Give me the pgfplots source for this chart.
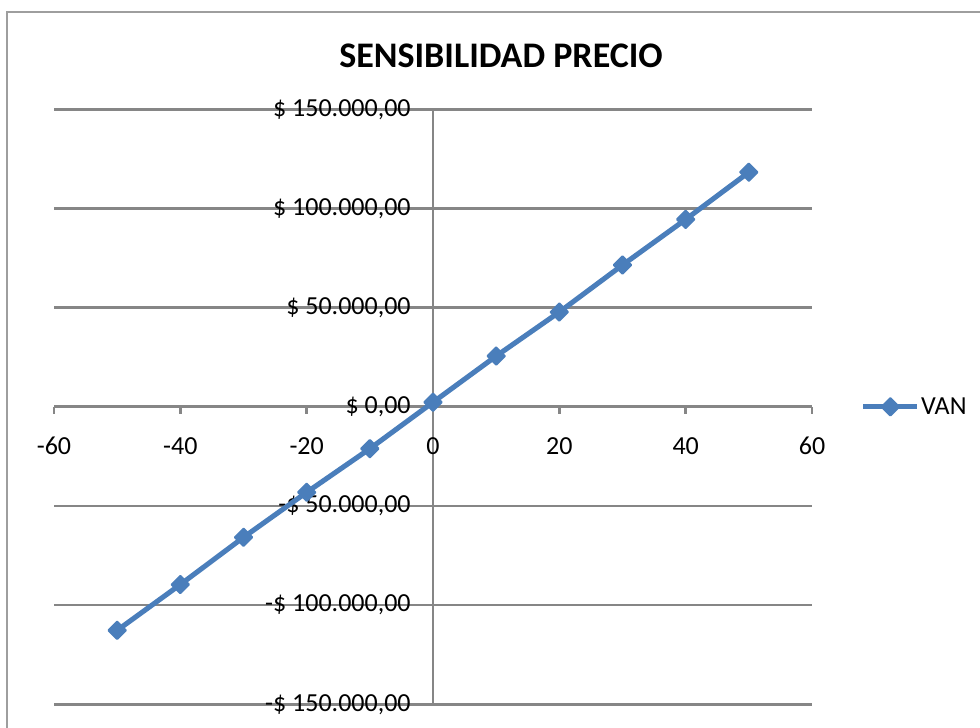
\documentclass[border=0pt]{standalone}
\usepackage{pgfplots}
\pgfplotsset{compat=1.18}
\usepackage{fontspec}
\setmainfont{Carlito}
\definecolor{gridgray}{RGB}{134,134,134}
\definecolor{serie}{RGB}{74,126,187}
\begin{document}
\begin{tikzpicture}
\useasboundingbox (0,0) rectangle (735pt,545.25pt);
\draw[gridgray!80, line width=1.5pt] (5.25pt,-20pt) rectangle (760pt,535.9pt);
\node[font=\bfseries\fontsize{27}{30}\selectfont, inner sep=0pt] at (375.75pt,503.6pt) {SENSIBILIDAD PRECIO};
\begin{axis}[
  at={(40.5pt,17pt)}, anchor=south west, scale only axis,
  width=568.5pt, height=446.25pt,
  xmin=-60, xmax=60, ymin=-150000, ymax=150000,
  enlargelimits=false,
  axis lines=middle,
  axis line style={draw=gridgray, line width=2pt, -},
  ymajorgrids,
  grid style={gridgray, line width=2pt},
  xtick={-60,-40,-20,0,20,40,60},
  xticklabels={-60,-40,-20,0,20,40,60},
  ytick={-150000,-100000,-50000,0,50000,100000,150000},
  yticklabels={{-\$ 150.000,00},{-\$ 100.000,00},{-\$ 50.000,00},{\$ 0,00},{\$ 50.000,00},{\$ 100.000,00},{\$ 150.000,00}},
  scaled ticks=false,
  hide obscured x ticks=false, hide obscured y ticks=false,
  tick align=outside, major tick length=5.25pt,
  tick style={gridgray, line width=2pt},
  ticklabel style={font=\fontsize{19.5}{22}\selectfont},
  xticklabel style={yshift=-14pt},
  yticklabel style={xshift=-8pt},
  legend style={draw=none, fill=none, at={(axis description cs:1.064,0.5)}, anchor=west,
    inner sep=0pt, font=\fontsize{19.5}{22}\selectfont, nodes={inner sep=1pt}},
  legend image code/.code={\draw[#1,mark repeat=2,mark phase=2] plot coordinates {(0pt,0pt) (20.25pt,0pt) (40.5pt,0pt)};},
  clip=false,
]
\addplot[serie, line width=3.8pt, mark=square*, mark size=4.6pt,
  mark options={solid, fill=serie, draw=serie, line width=1.5pt, rotate=45, line join=round}]
  coordinates {
  (-50,-112700) (-40,-89600) (-30,-65800) (-20,-43100) (-10,-21100)
  (0,2300) (10,25600) (20,47800) (30,71500) (40,94500) (50,118300)
  };
\addlegendentry{VAN}
\end{axis}
\end{tikzpicture}
\end{document}
